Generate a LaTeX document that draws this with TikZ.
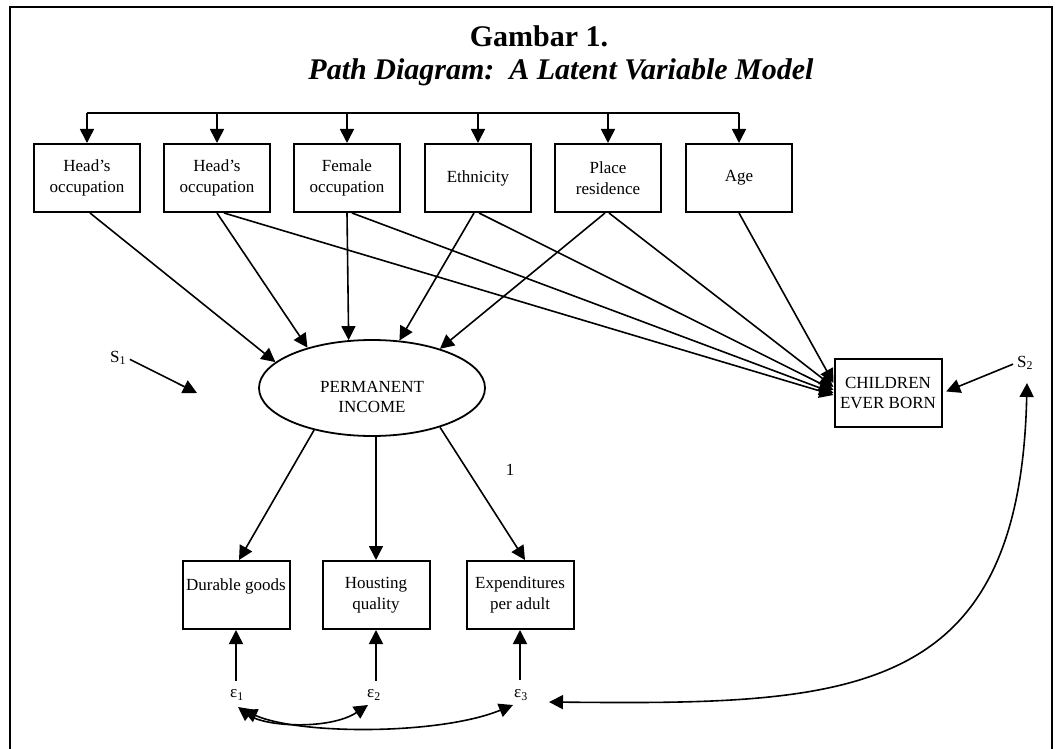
\documentclass[tikz,border=0pt]{standalone}
\usepackage{fontspec}
\setmainfont{Liberation Serif}
\usetikzlibrary{arrows.meta,shapes.geometric}
\begin{document}
\begin{tikzpicture}[x=1pt,y=-1pt,
  myarr/.style={-{Triangle[length=14pt,width=14pt]}},
  dblarr/.style={{Triangle[length=14pt,width=14pt]}-{Triangle[length=14pt,width=14pt]}},
  conn/.style={line width=1.6pt, myarr},
  dconn/.style={line width=1.6pt, dblarr},
  box/.style={draw, line width=2pt, rectangle, minimum width=106pt, minimum height=68pt, align=center, inner sep=0pt, font=\fontsize{17}{20.5}\selectfont},
  lab/.style={font=\fontsize{17}{20.5}\selectfont, inner sep=1pt},
  ttl/.style={font=\fontsize{30}{34}\selectfont\bfseries, inner sep=0pt},
]
\useasboundingbox (0,0) rectangle (1063,749);
\draw[line width=1.6pt] (10,749) -- (10,7) -- (1052,7) -- (1052,749);

% titles
\node[ttl] (t1) at (539,36) {Gambar 1.};
\node[ttl, font=\fontsize{30}{34}\selectfont\bfseries\itshape] (t2) at (561,72) {Path Diagram:\ \ A Latent Variable Model};

% top boxes
\node[box] (b1) at (87,178) {Head’s\\occupation};
\node[box] (b2) at (217,178) {Head’s\\occupation};
\node[box] (b3) at (347,178) {Female\\occupation};
\node[box] (b4) at (478,178) {Ethnicity};
\node[box] (b5) at (608,178) {Place\\residence};
\node[box] (b6) at (739,178) {Age};

% bus
\coordinate (bus) at (87,113);
\draw[line width=1.6pt] (b1.north |- bus) -- (b6.north |- bus);
\foreach \b in {b1,b2,b3,b4,b5,b6}{
  \draw[conn] (\b.north |- bus) -- (\b.north);
}

% latent variable
\node[draw, ellipse, line width=1.8pt, minimum width=226pt, minimum height=96pt, inner sep=0pt] (perm) at (372,388) {};
\node[lab, align=center] (permt) at (372,397) {PERMANENT\\INCOME};

% outcome
\node[box, minimum width=107pt] (ceb) at (888,393) {CHILDREN\\EVER BORN};

% indicators
\node[box, minimum width=107pt] (d1) at (236,595) {Durable goods\\\mbox{}};
\node[box, minimum width=107pt] (d2) at (376,595) {Housting\\quality};
\node[box, minimum width=107pt] (d3) at (520,595) {Expenditures\\per adult};

% disturbances
\node[lab] (s1) at (118,358) {S\textsubscript{1}};
\coordinate (s1end) at (197,393);
\draw[conn, shorten <=3pt] (s1.east) -- (s1end);
\node[lab] (s2) at (1025,363) {S\textsubscript{2}};
\draw[conn, shorten <=3pt, shorten >=4pt] (s2.west) -- (ceb.east);

\node[lab] (e1) at (237,695) {ε\textsubscript{1}};
\node[lab] (e2) at (374,695) {ε\textsubscript{2}};
\node[lab] (e3) at (521,695) {ε\textsubscript{3}};

% top boxes to latent
\draw[conn] ([xshift=3pt]b1.south) -- (perm.165);
\draw[conn] (b2.south) -- (perm.148);
\draw[conn] (b3.south) -- (perm.116);
\draw[conn] ([xshift=-4pt]b4.south) -- (perm.60);
\draw[conn] ([xshift=-3pt]b5.south) -- (perm.30);

% top boxes to outcome
\draw[conn] ([xshift=7pt]b2.south) -- ([yshift=-2pt]ceb.west);
\draw[conn] ([xshift=5pt]b3.south) -- (ceb.west);
\draw[conn] ([xshift=1pt]b4.south) -- ([yshift=3pt]ceb.west);
\draw[conn] ([xshift=1pt]b5.south) -- ([yshift=6pt]ceb.west);
\draw[conn] (b6.south) -- ([yshift=10pt]ceb.west);

% latent to indicators
\draw[conn] (perm.216) -- ([xshift=3pt]d1.north);
\draw[conn] (d2.north |- perm.south) -- (d2.north);
\draw[conn] (perm.-30) -- ([xshift=5pt]d3.north);
\node[lab] (one) at (510,470) {1};

% errors to indicators
\draw[conn, shorten <=8pt] (d1.south |- e1.north) -- (d1.south);
\draw[conn, shorten <=8pt] (d2.south |- e2.north) -- (d2.south);
\draw[conn, shorten <=8pt] (d3.south |- e3.north) -- (d3.south);

% correlated errors
\draw[dconn] ([shift={(1,12)}]e1.center) .. controls +(27,20) and +(-38,25) .. ([shift={(-6,10)}]e2.center);
\draw[dconn] ([shift={(6,15)}]e1.center) .. controls +(57,25) and +(-73,30) .. ([shift={(-8,10)}]e3.center);
\draw[dconn] ([shift={(2,20)}]s2.center) .. controls +(-7,317) and +(301,3) .. ([shift={(28,7)}]e3.center);
\end{tikzpicture}
\end{document}
